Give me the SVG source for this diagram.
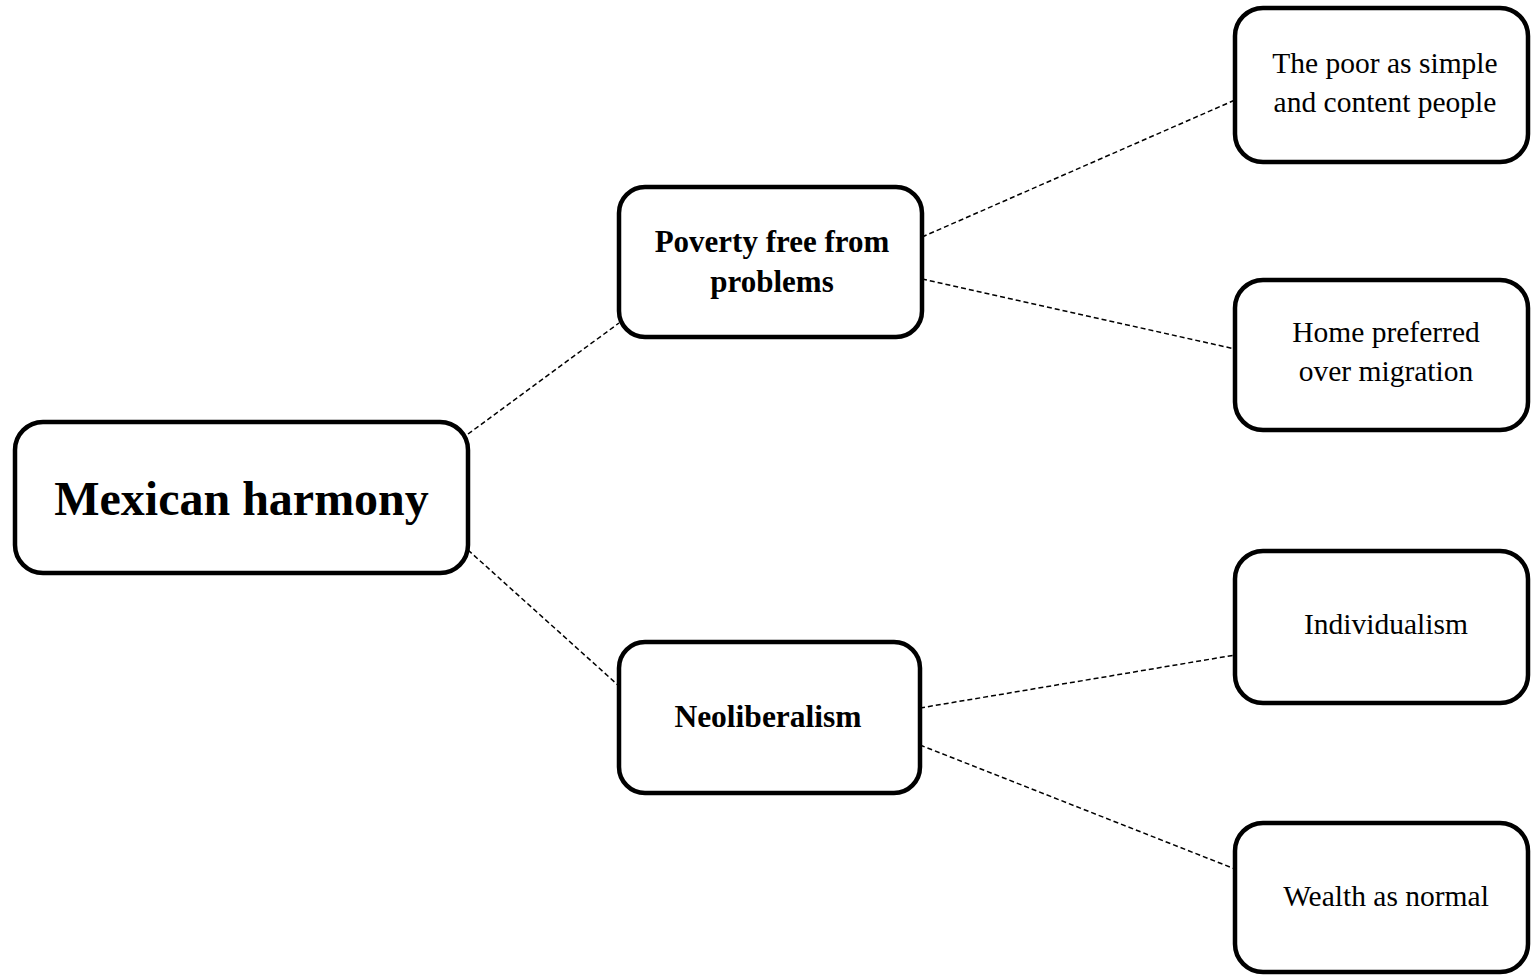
<svg xmlns="http://www.w3.org/2000/svg" width="1531" height="975" viewBox="0 0 1531 975">
<style>
.box{fill:#fff;stroke:#000;stroke-width:4.5}
.conn line{stroke:#000;stroke-width:1.5;stroke-dasharray:5,3;fill:none}
text{font-family:"Liberation Serif","Times New Roman",serif;fill:#000;text-anchor:middle}
.b{font-weight:bold}
.s{font-size:29.5px}
</style>
<rect width="1531" height="975" fill="#fff"/>
<g class="conn" id="connectors">
<line x1="468" y1="434" x2="619" y2="323"/>
<line x1="468" y1="550" x2="619" y2="686"/>
<line x1="922" y1="237" x2="1235" y2="100"/>
<line x1="922" y1="279" x2="1235" y2="349"/>
<line x1="920" y1="708" x2="1235" y2="655"/>
<line x1="920" y1="745" x2="1235" y2="869"/>
</g>
<g id="root">
<rect class="box" x="15" y="422" width="453" height="151" rx="28"/>
<text class="b" x="241.5" y="515" font-size="48">Mexican harmony</text>
</g>
<g id="poverty">
<rect class="box" x="619" y="187" width="303" height="150" rx="26"/>
<text class="b" x="772" y="252" font-size="31">Poverty free from</text>
<text class="b" x="772" y="292" font-size="31">problems</text>
</g>
<g id="neoliberalism">
<rect class="box" x="619" y="642" width="301" height="151" rx="26"/>
<text class="b" x="768" y="727" font-size="31.5">Neoliberalism</text>
</g>
<g id="poor">
<rect class="box" x="1235" y="8" width="293" height="154" rx="28"/>
<text class="s" x="1385" y="73">The poor as simple</text>
<text class="s" x="1385" y="112">and content people</text>
</g>
<g id="home">
<rect class="box" x="1235" y="280" width="293" height="150" rx="28"/>
<text class="s" x="1386" y="342">Home preferred</text>
<text class="s" x="1386" y="381">over migration</text>
</g>
<g id="individualism">
<rect class="box" x="1235" y="551" width="293" height="152" rx="28"/>
<text class="s" x="1386" y="634">Individualism</text>
</g>
<g id="wealth">
<rect class="box" x="1235" y="823" width="293" height="149" rx="28"/>
<text class="s" x="1386" y="906">Wealth as normal</text>
</g>
</svg>
